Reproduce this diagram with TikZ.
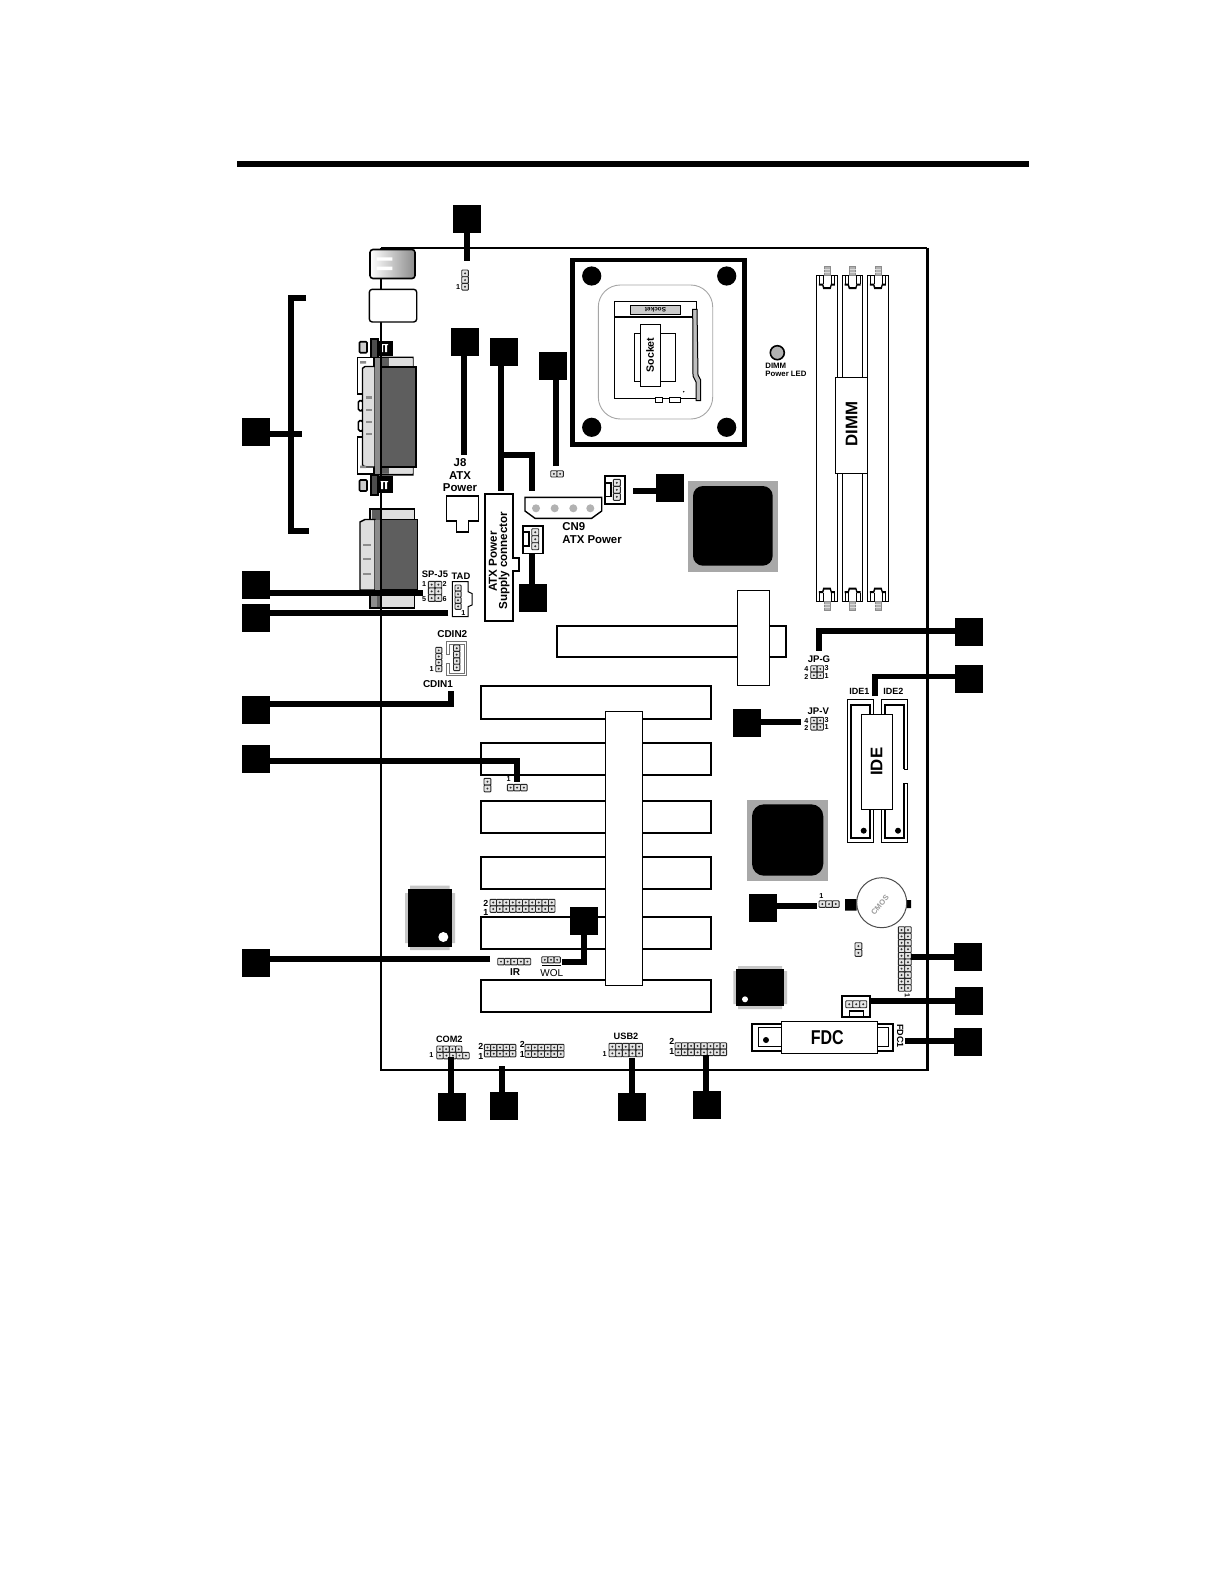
\documentclass[tikz,border=0pt]{standalone}
\usepackage{fontspec}
\usepackage{graphicx}
\setmainfont{Liberation Sans}
\tikzset{
  sq/.style={fill=black,inner sep=0pt,minimum width=14pt,minimum height=14pt},
  stem/.style={draw=black,line width=3pt},
  thin line/.style={draw=black,line width=.5pt},
  whitebox/.style={draw=black,line width=.5pt,fill=white},
  slot/.style={draw=black,line width=1pt,fill=white},
  lab/.style={inner sep=0pt,font=\bfseries\fontsize{5}{5}\selectfont},
  labn/.style={inner sep=0pt,font=\fontsize{5}{5}\selectfont},
  tiny lab/.style={inner sep=0pt,font=\bfseries\fontsize{3.6}{3.6}\selectfont},
}
\definecolor{dk}{gray}{0.37}
\definecolor{md}{gray}{0.55}
\definecolor{lt}{gray}{0.87}
\newcommand\hdr[5]{\foreach \i in {1,...,#3}{\foreach \j in {1,...,#4}{
  \path[draw=black!85,fill=black!10,line width=.45pt,rounded corners=.4pt] ({#1+(\i-1)*#5},{#2+(\j-1)*#5}) rectangle ({#1+\i*#5},{#2+\j*#5});
  \fill[black!80] ({#1+(\i-.5)*#5},{#2+(\j-.5)*#5}) circle (1.1);
}}}
\newcommand\latch[3]{% left x, base y, sign
  \path[fill=black!30,draw=black!45,line width=.3pt] ({#1+7.3},#2) rectangle ({#1+13.3},{#2-#3*8.5});
  \draw[black!15,line width=.4pt] ({#1+7.3},{#2-#3*3}) -- ({#1+13.3},{#2-#3*3}) ({#1+7.3},{#2-#3*6}) -- ({#1+13.3},{#2-#3*6});
  \draw[thin line] ({#1+2.7},#2) -- ({#1+2.7},{#2+#3*9}) ({#1+17.7},#2) -- ({#1+17.7},{#2+#3*9});
  \draw[thin line] ({#1+6.3},#2) -- ({#1+6.3},{#2+#3*9}) ({#1+14.3},#2) -- ({#1+14.3},{#2+#3*9});
  \fill[black] ({#1+2.2},{#2+#3*8.5}) -- ({#1+6.3},{#2+#3*8.5}) -- ({#1+7.5},{#2+#3*12}) -- ({#1+13.2},{#2+#3*12}) -- ({#1+14.3},{#2+#3*8.5}) -- ({#1+18.2},{#2+#3*8.5}) -- ({#1+18.2},{#2+#3*10.5}) -- ({#1+15},{#2+#3*10.5}) -- ({#1+14},{#2+#3*14}) -- ({#1+6.5},{#2+#3*14}) -- ({#1+5.5},{#2+#3*10.5}) -- ({#1+2.2},{#2+#3*10.5}) -- cycle;
}
\newcommand\screw[7]{% grey box y0 y1, dark y0 y1, black y0 y1, glyph y
  \path[fill=black!20,draw=black,line width=.8pt,rounded corners=.5pt] (359.5,#1) rectangle (367,#2);
  \path[fill=black!70,draw=black,line width=.8pt] (371,#3) rectangle (378,#4);
  \fill[black] (378,#5) rectangle (393.3,#6);
  \fill[white] (380.5,{#7-4}) rectangle (388,{#7-3}) (381,{#7-3}) rectangle (383,{#7+4}) (385,{#7-3}) rectangle (387,{#7+4});
}
\begin{document}
\begin{tikzpicture}[x=0.5pt,y=-0.5pt]
\useasboundingbox (0,0) rectangle (1225,1585);
\fill[white] (0,0) rectangle (1225,1585);

% rule above the picture
\fill[black] (237,161) rectangle (1029,167);

% board
\draw[black,line width=1.15pt] (381,248) -- (927,248);
\draw[black,line width=1.15pt] (381,248) -- (381,1070) -- (927,1070);
\draw[black,line width=1.5pt] (927,247.5) -- (927,1070.5);

% ---------- rear panel ----------
\shade[left color=white,right color=black!45,rounded corners=1pt] (370,249.5) rectangle (415,278.5);
\draw[black,line width=.8pt,rounded corners=1.5pt] (370,249.5) rectangle (415,278.5);
\fill[white] (376.7,257.3) rectangle (392.3,260.7) (376.7,266.7) rectangle (392.3,270);
\path[fill=white,draw=black,line width=.7pt,rounded corners=1.5pt] (369.3,289.3) rectangle (416.7,322);

% DB25
\path[whitebox,line width=.8pt] (357.5,357.5) rectangle (374,394);
\path[whitebox,line width=.8pt] (357.5,436.7) rectangle (374,474);
\path[whitebox,line width=.8pt,rounded corners=.8pt] (358.3,400.7) rectangle (363,410.7);
\path[whitebox,line width=.8pt,rounded corners=.8pt] (358.3,420.7) rectangle (363,431);
\path[fill=lt,draw=black,line width=.7pt] (362.5,368.3) -- (365,366.5) -- (375,366.5) -- (375,467) -- (365,467) -- (362.5,465) -- cycle;
\fill[md] (360,361) rectangle (366,363.5) (360,465.5) rectangle (366,468);
\fill[black] (373.5,356.5) rectangle (413.5,358.5) (373.5,473.5) rectangle (413.5,475.5) (412.5,358) rectangle (413.5,367) (412.5,465) rectangle (413.5,474);
\fill[md] (374.5,358) rectangle (381.5,473.5);
\fill[dk] (381.5,358) rectangle (389,367) (381.5,465) rectangle (389,473.5);
\fill[lt] (389,358) rectangle (412.5,367) (389,465) rectangle (412.5,473.5);
\path[fill=dk] (381.5,367) rectangle (415.5,466.5);
\draw[black,line width=1pt] (381.5,367) -- (415.7,367) -- (415.7,466.5) -- (381.5,466.5);
\foreach \yy/\hh in {397.3/3,409.7/1.8,421.7/1.8,433.7/1.8}
  \fill[md] (365.7,\yy-\hh/2) rectangle (371.7,\yy+\hh/2);
\screw{341.7}{352.7}{339}{357.3}{341}{355.5}{348}
\screw{480}{491}{475}{495}{475.7}{493.3}{485}

% second connector
\path[fill=lt,draw=black,line width=.8pt] (370,509) rectangle (414.3,520.5);
\fill[dk] (372,510) rectangle (380,520);
\path[fill=lt,draw=black,line width=.8pt] (370,590) rectangle (414.3,608);
\fill[black!45] (371,591) rectangle (377,606.5);
\fill[dk] (377,591) rectangle (380.5,606.5);
\path[fill=lt,draw=black,line width=.7pt] (360,590) -- (360,522) -- (365,519.5) -- (375,519.5) -- (375,590) -- cycle;
\fill[md] (375,519.5) rectangle (381,590);
\path[fill=dk,draw=black,line width=.8pt] (381,519.5) rectangle (417.5,590);
\foreach \yy in {544.7,559,574}
  \fill[md] (363,\yy-1) rectangle (370.7,\yy+1);
\draw[black,line width=1.15pt] (381,339) -- (381,357) (381,358) -- (381,475) (381,495) -- (381,608);

% ---------- CPU ----------
\draw[black,line width=2.3pt] (572.5,260) rectangle (744.5,444.5);
\foreach \a/\b in {591.7/276,726.7/276,591.7/427.3,726.7/427.3}
  \fill[black] (\a,\b) circle (9.6);
\draw[black!35,line width=.45pt,rounded corners=11pt] (598.3,285) rectangle (712.7,419);
\path[whitebox] (614.3,301) rectangle (696.7,398.7);
\draw[black,line width=1pt] (614.3,317.3) -- (693,317.3);
\path[fill=black!20,draw=black,line width=.4pt] (630.3,305) rectangle (680.7,314.7);
\node[inner sep=0pt,rotate=180,font=\bfseries\fontsize{3.2}{3.2}\selectfont] (lsocketb) at (655.5,309.8) {Socket};
\path[fill=black!25,draw=black,line width=.5pt] (692.7,309.3) -- (697,309.3) -- (698,375) -- (700.7,380) -- (700.7,400.7) -- (696,400.7) -- (696,382) -- (693,376) -- cycle;
\path[whitebox] (634.3,333.3) rectangle (675.7,381.7);
\draw[black,line width=.8pt] (634.3,333.3) -- (675.7,333.3);
\path[whitebox] (640.3,324.3) rectangle (660.7,386.3);
\node[inner sep=0pt,rotate=90,font=\bfseries\fontsize{5.3}{5.3}\selectfont] (lsocket) at (650,355) {Socket};
\path[whitebox] (655.3,397.3) rectangle (662,402.7);
\path[whitebox] (669.3,397.3) rectangle (680.7,402.7);
\fill[black] (683.7,391.7) circle (.8);

% LED
\path[fill=black!30,draw=black,line width=.8pt] (777.3,352.7) circle (7);
\node[lab,anchor=west,font=\bfseries\fontsize{3.9}{3.9}\selectfont] (ldimm) at (765,365.7) {DIMM};
\node[lab,anchor=west,font=\bfseries\fontsize{3.9}{3.9}\selectfont] (lled) at (765,373.7) {Power LED};

% DIMM slots
\foreach \xx in {816.7,842.3,867.7} {
  \path[whitebox] (\xx,275) rectangle (\xx+20.4,601.7);
  \latch{\xx}{275}{1}
  \latch{\xx}{601.7}{-1}
}
\path[whitebox] (835.3,377.3) rectangle (867.3,473.3);
\node[inner sep=0pt,rotate=90,font=\bfseries\fontsize{8.4}{8.4}\selectfont] (ldimmb) at (851.7,424) {DIMM};

% chips
\fill[black!34] (688,481) rectangle (778,571.7);
\fill[black,rounded corners=5pt] (693,486) rectangle (772.7,565.7);
\fill[black!34] (747,800) rectangle (828,881);
\fill[black,rounded corners=6pt] (752,804.3) rectangle (823.3,875.7);
\fill[black!22] (410,885.5) rectangle (449.5,950) (405,893) rectangle (455,943);
\fill[black] (407.7,889.3) rectangle (452,946.7);
\fill[white] (443.3,937) circle (5);
\fill[black!22] (738,966) rectangle (782,1009) (733.3,971) rectangle (787,1004);
\fill[black] (736,968.7) rectangle (784,1006);
\fill[white] (745,999.3) circle (3);

% AGP
\path[slot] (556.7,625.7) rectangle (786,657.3);
\path[whitebox] (737.3,590) rectangle (769.3,685.3);

% PCI
\foreach \ya/\yb in {685.7/719,742.7/775,800.7/832.7,856.7/889,917.3/949.3,980/1012.3}
  \path[slot] (481,\ya) rectangle (711,\yb);
\path[whitebox] (605.7,711.7) rectangle (642.7,985.3);

% J8 connector
\path[whitebox,line width=.7pt] (446.7,496) -- (478.3,496) -- (478.3,521) -- (468.7,521) -- (468.7,532) -- (456.7,532) -- (456.7,521) -- (446.7,521) -- cycle;
\node[lab,font=\bfseries\fontsize{5.7}{5.7}\selectfont] (lj8) at (460,463) {J8};
\node[lab,font=\bfseries\fontsize{5.7}{5.7}\selectfont] (latx) at (460,475.7) {ATX};
\node[lab,font=\bfseries\fontsize{5.7}{5.7}\selectfont] (lpow) at (460,488) {Power};

% supply connector
\path[fill=white,draw=black,line width=.9pt] (485,494) -- (512.7,494) -- (512.7,558) -- (518.7,558) -- (518.7,570.7) -- (512.7,570.7) -- (512.7,620.7) -- (485,620.7) -- cycle;
\node[inner sep=0pt,rotate=90,anchor=west,font=\bfseries\fontsize{5.8}{5.8}\selectfont] (lsup1) at (493,592) {ATX Power};
\node[inner sep=0pt,rotate=90,anchor=west,font=\bfseries\fontsize{5.8}{5.8}\selectfont] (lsup2) at (504,610) {Supply connector};

% CN9
\path[fill=white,draw=black,line width=.7pt] (525,497.3) -- (601.7,497.3) -- (601.7,511) -- (591.7,518.3) -- (535,518.3) -- (525,511) -- cycle;
\foreach \xx in {536,554.7,573.3,590.3} \fill[black!30] (\xx,508.3) circle (4);
\node[lab,anchor=west,font=\bfseries\fontsize{5.7}{5.7}\selectfont] (lcn9) at (562,526.7) {CN9};
\node[lab,anchor=west,font=\bfseries\fontsize{5.7}{5.7}\selectfont] (lcn9b) at (562,540) {ATX Power};

% headers beside CN9
\path[fill=white,draw=black,line width=.9pt] (605,476) rectangle (625,504.3);
\path[fill=white,draw=black,line width=.6pt] (605.5,483) rectangle (611,496.7);
\hdr{613.3}{479.3}{1}{3}{7}
\path[fill=white,draw=black,line width=.9pt] (523.3,526) rectangle (542.7,553.5);
\path[fill=white,draw=black,line width=.6pt] (523.8,532) rectangle (529,546);
\hdr{531.7}{528.7}{1}{3}{7}

% small jumpers
\hdr{461.7}{270}{1}{3}{6.7}
\node[tiny lab] (l1a) at (458,287) {1};
\hdr{550.7}{470.7}{2}{1}{6.3}

% SP-J5 / TAD
\hdr{428.3}{581.3}{2}{3}{6.7}
\node[lab,font=\bfseries\fontsize{4.7}{4.7}\selectfont] (lsp) at (435,574.7) {SP-J5};
\node[lab,font=\bfseries\fontsize{4.7}{4.7}\selectfont] (ltad) at (461,576) {TAD};
\node[tiny lab] (lsp1) at (424,584) {1};
\node[tiny lab] (lsp2) at (444.5,584) {2};
\node[tiny lab] (lsp5) at (424,599.3) {5};
\node[tiny lab] (lsp6) at (444.5,599.3) {6};
\path[fill=white,draw=black,line width=.5pt] (452.3,581.7) -- (468,581.7) -- (468,591.7) -- (472,593.5) -- (472,605) -- (468,606.7) -- (468,616.7) -- (452.3,616.7) -- cycle;
\hdr{455}{585}{1}{4}{6.1}
\node[tiny lab] (ltad1) at (463.3,612.7) {1};

% CDIN
\node[lab] (lcd2) at (452.3,634.3) {CDIN2};
\draw[black!55,line width=.5pt] (453,641.7) -- (446,641.7) -- (446,654) -- (449,654) -- (449,644) -- (453,644);
\draw[black!55,line width=.5pt] (453,675.7) -- (446,675.7) -- (446,663) -- (449,663) -- (449,673) -- (453,673);
\draw[black!55,line width=.5pt] (453,641.7) -- (466.7,641.7) -- (466.7,675.7) -- (453,675.7);
\draw[black!55,line width=.5pt] (453,644) -- (464,644) -- (464,673) -- (453,673);
\hdr{453.5}{645}{1}{4}{6.4}
\hdr{435.7}{647.3}{1}{4}{6.1}
\node[tiny lab] (lcd1n) at (431.7,669.3) {1};
\node[lab] (lcd1) at (438,683.7) {CDIN1};

\hdr{507.3}{784.3}{3}{1}{6.6}
\node[tiny lab] (lj1) at (508.7,779.3) {1};
\hdr{484}{778.3}{1}{2}{6.8}

\hdr{490}{899.3}{10}{2}{6.5}
\node[tiny lab,font=\bfseries\fontsize{4.4}{4.4}\selectfont] (lh2) at (485.7,903) {2};
\node[tiny lab,font=\bfseries\fontsize{4.4}{4.4}\selectfont] (lh1) at (485.7,912.7) {1};

\hdr{497.7}{958.3}{5}{1}{6.6}
\node[lab] (lir) at (515,972.3) {IR};
\hdr{541.7}{956.7}{3}{1}{6.2}
\fill[black] (541.7,964.8) rectangle (560.5,965.8);
\node[labn] (lwol) at (551.7,972.7) {WOL};

% rear row
\node[lab,font=\bfseries\fontsize{4.6}{4.6}\selectfont] (lcom) at (449.3,1039.3) {COM2};
\hdr{436.7}{1046}{4}{1}{6.3}
\hdr{436.7}{1052.3}{5}{1}{6.5}
\node[tiny lab] (lcom1) at (431.3,1055.3) {1};
\hdr{484.3}{1044.3}{5}{2}{6.3}
\node[tiny lab,font=\bfseries\fontsize{4.4}{4.4}\selectfont] (la2) at (480.7,1046) {2};
\node[tiny lab,font=\bfseries\fontsize{4.4}{4.4}\selectfont] (la1) at (480.7,1056.7) {1};
\hdr{525}{1044.3}{6}{2}{6.5}
\node[tiny lab,font=\bfseries\fontsize{4.4}{4.4}\selectfont] (lb2) at (522.3,1044) {2};
\node[tiny lab,font=\bfseries\fontsize{4.4}{4.4}\selectfont] (lb1) at (522.3,1054.3) {1};
\hdr{609}{1043.3}{5}{2}{6.7}
\node[lab,font=\bfseries\fontsize{4.6}{4.6}\selectfont] (lusb) at (626,1036) {USB2};
\node[tiny lab] (lusb1) at (604.7,1054) {1};
\hdr{675}{1042.7}{8}{2}{6.45}
\node[tiny lab,font=\bfseries\fontsize{4.4}{4.4}\selectfont] (lc2) at (671.7,1041.7) {2};
\node[tiny lab,font=\bfseries\fontsize{4.4}{4.4}\selectfont] (lc1) at (671.7,1051.7) {1};

% JP-G / JP-V
\node[lab,font=\bfseries\fontsize{4.8}{4.8}\selectfont] (ljpg) at (819,659.3) {JP-G};
\hdr{810.7}{665.7}{2}{2}{6.4}
\node[tiny lab] (lg4) at (806.3,669.3) {4};
\node[tiny lab] (lg2) at (806.3,676.7) {2};
\node[tiny lab] (lg3) at (826.5,668) {3};
\node[tiny lab] (lg1) at (826.5,676) {1};
\node[lab,font=\bfseries\fontsize{4.8}{4.8}\selectfont] (ljpv) at (818.3,711) {JP-V};
\hdr{810.7}{717.3}{2}{2}{6.4}
\node[tiny lab] (lv4) at (806.3,721) {4};
\node[tiny lab] (lv2) at (806.3,728) {2};
\node[tiny lab] (lv3) at (826.5,719.7) {3};
\node[tiny lab] (lv1) at (826.5,727) {1};

% IDE
\node[lab,font=\bfseries\fontsize{4.5}{4.5}\selectfont] (lide1) at (859.3,691.7) {IDE1};
\node[lab,font=\bfseries\fontsize{4.5}{4.5}\selectfont] (lide2) at (893.3,691.7) {IDE2};
\path[whitebox,line width=.7pt] (847.7,699.3) rectangle (873.3,842.3);
\draw[black,line width=1pt] (850.7,704.5) rectangle (870,838);
\path[fill=white] (881.7,699.3) rectangle (907.7,842.3);
\draw[black,line width=.7pt] (907.7,769.3) -- (907.7,699.3) -- (881.7,699.3) -- (881.7,842.3) -- (907.7,842.3) -- (907.7,783.3);
\draw[black,line width=1pt] (904.2,769.3) -- (904.2,704.5) -- (885.2,704.5) -- (885.2,838) -- (904.2,838) -- (904.2,783.3);
\draw[black,line width=.6pt] (907.7,769.3) -- (904.2,769.3) (907.7,783.3) -- (904.2,783.3);
\fill[black] (863.7,830.7) circle (3) (898,830.7) circle (3);
\path[whitebox] (861.3,714.3) rectangle (892.7,809.3);
\node[inner sep=0pt,rotate=90,font=\bfseries\fontsize{8.4}{8.4}\selectfont] (lideb) at (876.7,761.7) {IDE};

% battery
\fill[black] (845,899) rectangle (856.7,910.7) (906,900) rectangle (911,908);
\path[fill=white,draw=black!70,line width=.5pt] (881.7,902.7) circle (25);
\node[inner sep=0pt,rotate=50,text=black!40,font=\bfseries\fontsize{3.8}{3.8}\selectfont] (lcmos) at (880,905) {CMOS};
\hdr{819}{900.7}{3}{1}{6.7}
\node[tiny lab] (lj20) at (821.3,895.7) {1};
\hdr{855}{942.7}{1}{2}{6.8}
\hdr{898.3}{926.7}{2}{10}{6.45}
\node[tiny lab,rotate=-90] (llong) at (907.3,995.5) {1};

% 3-pin header
\path[fill=white,draw=black,line width=1pt] (842.3,996) rectangle (870,1016.7);
\path[fill=white,draw=black,line width=.6pt] (849.3,1011) rectangle (863.3,1016.7);
\hdr{845.7}{1000.7}{3}{1}{7}

% FDC
\path[fill=white,draw=black,line width=1pt] (752.3,1024) rectangle (893.3,1050.7);
\draw[black,line width=.6pt] (758.3,1027.3) rectangle (888.3,1046.7);
\fill[black] (766,1040) circle (3);
\path[whitebox] (781.3,1021.3) rectangle (877.7,1053.3);
\node[inner sep=0pt,font=\bfseries\fontsize{8}{8}\selectfont] (lfdc) at (827.3,1037.3) {\scalebox{1}[1.25]{FDC}};
\node[lab,rotate=-90,font=\bfseries\fontsize{4.5}{4.5}\selectfont] (lfdc1) at (900.3,1036) {FDC1};

% ---------- numbered squares and their leaders ----------
\node[sq] (s1) at (467.3,219) {};
\node[sq] (s2) at (465.3,342) {};
\node[sq] (s3) at (503.8,352.3) {};
\node[sq] (s4) at (552.5,366) {};
\node[sq] (s5) at (256,431.5) {};
\node[sq] (s6) at (670,488.3) {};
\node[sq] (s7) at (256,584.5) {};
\node[sq] (s8) at (256,618) {};
\node[sq] (s9) at (256,710) {};
\node[sq] (s10) at (256,758.5) {};
\node[sq] (s11) at (256,962.5) {};
\node[sq] (s12) at (583.5,921) {};
\node[sq] (s13) at (452,1106.5) {};
\node[sq] (s14) at (503.5,1106) {};
\node[sq] (s15) at (631.5,1106.7) {};
\node[sq] (s16) at (706.5,1105) {};
\node[sq] (s17) at (968,1042) {};
\node[sq] (s18) at (969,1001) {};
\node[sq] (s19) at (968,957) {};
\node[sq] (s20) at (762.5,907.5) {};
\node[sq] (s21) at (747,722.5) {};
\node[sq] (s22) at (969,632) {};
\node[sq] (s23) at (969,678.5) {};
\node[sq] (s24) at (533,597.5) {};

\coordinate (c1) at (467,260.7);
\coordinate (c2) at (464,455);
\coordinate (c3) at (501,490.7);
\coordinate (c3b) at (501,455);
\coordinate (c3c) at (531.7,490.7);
\coordinate (c4) at (555.7,466);
\coordinate (c5) at (301.7,433.7);
\coordinate (c5t) at (306,297.7);
\coordinate (c5u) at (291,297.7);
\coordinate (c5d) at (291,530.7);
\coordinate (c5b) at (309,530.7);
\coordinate (c6) at (633,491);
\coordinate (c7) at (422.7,592.7);
\coordinate (c8) at (448.3,612.7);
\coordinate (c9) at (451,691.3);
\coordinate (c9b) at (451,703.7);
\coordinate (c10) at (516.7,781.7);
\coordinate (c10b) at (516.7,760.7);
\coordinate (c11) at (490,959);
\coordinate (c12) at (562.3,961.7);
\coordinate (c12b) at (584,961.7);
\coordinate (c13) at (451,1056.7);
\coordinate (c14) at (502,1066);
\coordinate (c15) at (632,1058);
\coordinate (c16) at (706,1055);
\coordinate (c17) at (905,1040.7);
\coordinate (c18) at (870.7,1001);
\coordinate (c19) at (910.7,956.7);
\coordinate (c20) at (816.7,905.7);
\coordinate (c21) at (800.7,721.7);
\coordinate (c22) at (819,650.7);
\coordinate (c22b) at (819,630.7);
\coordinate (c23) at (875,696);
\coordinate (c23b) at (875,676.7);
\coordinate (c24) at (532,554);

\draw[stem] (c1) -- (c1 |- s1);
\draw[stem] (c2) -- (c2 |- s2);
\draw[stem] (c3) -- (c3 |- s3);
\draw[stem] (c3b) -| (c3c);
\draw[stem] (c4) -- (c4 |- s4);
\draw[stem] (c5) -- (c5 -| s5);
\draw[stem] (c5t) -- (c5u) -- (c5d) -- (c5b);
\draw[stem] (c6) -- (c6 -| s6);
\draw[stem] (c7) -- (c7 -| s7);
\draw[stem] (c8) -- (c8 -| s8);
\draw[stem] (c9) -- (c9b) -- (c9b -| s9);
\draw[stem] (c10) -- (c10b) -- (c10b -| s10);
\draw[stem] (c11) -- (c11 -| s11);
\draw[stem] (c12) -- (c12b) -- (c12b |- s12);
\draw[stem] (c13) -- (c13 |- s13);
\draw[stem] (c14) -- (c14 |- s14);
\draw[stem] (c15) -- (c15 |- s15);
\draw[stem] (c16) -- (c16 |- s16);
\draw[stem] (c17) -- (c17 -| s17);
\draw[stem] (c18) -- (c18 -| s18);
\draw[stem] (c19) -- (c19 -| s19);
\draw[stem] (c20) -- (c20 -| s20);
\draw[stem] (c21) -- (c21 -| s21);
\draw[stem] (c22) -- (c22b) -- (c22b -| s22);
\draw[stem,line width=2.6pt] (c23) -- (c23b) -- (c23b -| s23);
\draw[stem] (c24) -- (c24 |- s24);
\end{tikzpicture}
\end{document}
